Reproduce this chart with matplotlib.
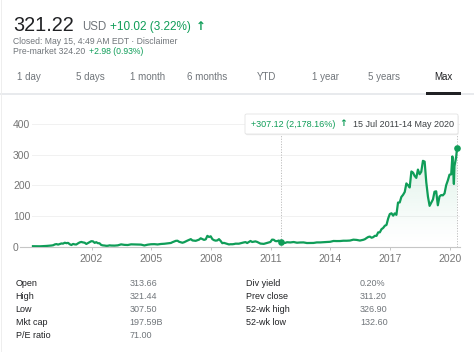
import numpy as np
import pandas as pd
import matplotlib
matplotlib.use("Agg")
import matplotlib.pyplot as plt
from matplotlib.patches import Polygon, Rectangle, FancyBboxPatch
from matplotlib.colors import to_rgb

plt.rcParams['font.family'] = ['Liberation Sans', 'DejaVu Sans']

# ---------------- data ----------------
dates = [
    '1999-01-22', '1999-03-28', '1999-05-28', '1999-07-28', '1999-09-28', '1999-11-28', '1999-12-28',
    '2000-01-28', '2000-02-28', '2000-03-28', '2000-04-28', '2000-05-28', '2000-06-28', '2000-07-28',
    '2000-08-28', '2000-09-28', '2000-10-28', '2000-11-28', '2000-12-28',
    '2001-01-28', '2001-02-28', '2001-03-28', '2001-04-28', '2001-05-28', '2001-06-28', '2001-07-28',
    '2001-08-28', '2001-09-28', '2001-10-28', '2001-11-28', '2001-12-28',
    '2002-01-28', '2002-02-28', '2002-03-28', '2002-04-28', '2002-05-28', '2002-06-28', '2002-07-28',
    '2002-08-28', '2002-09-28', '2002-10-28', '2002-11-28', '2002-12-28',
    '2003-02-28', '2003-04-28', '2003-06-28', '2003-08-28', '2003-10-28', '2003-12-28',
    '2004-02-28', '2004-04-28', '2004-06-28', '2004-08-28', '2004-10-28', '2004-12-28',
    '2005-02-28', '2005-04-28', '2005-06-28', '2005-08-28', '2005-10-28', '2005-12-28',
    '2006-01-28', '2006-03-28', '2006-04-28', '2006-05-28', '2006-07-28', '2006-08-28', '2006-10-28',
    '2006-12-28',
    '2007-01-28', '2007-03-28', '2007-05-28', '2007-06-28', '2007-08-28', '2007-09-28', '2007-10-28',
    '2007-11-28', '2007-12-28',
    '2008-01-28', '2008-02-28', '2008-03-28', '2008-04-28', '2008-05-28', '2008-06-28', '2008-07-28',
    '2008-08-28', '2008-09-28', '2008-10-28', '2008-11-28', '2008-12-28',
    '2009-01-28', '2009-02-28', '2009-03-28', '2009-05-28', '2009-06-28', '2009-08-28', '2009-09-28',
    '2009-10-28', '2009-12-28',
    '2010-01-28', '2010-03-28', '2010-04-28', '2010-06-28', '2010-08-28', '2010-10-28', '2010-12-28',
    '2011-01-28', '2011-02-28', '2011-03-28', '2011-04-28', '2011-05-28', '2011-06-28', '2011-07-15',
    '2011-08-28', '2011-09-28', '2011-10-28', '2011-12-28',
    '2012-02-28', '2012-04-28', '2012-06-28', '2012-08-28', '2012-10-28', '2012-12-28',
    '2013-02-28', '2013-04-28', '2013-06-28', '2013-08-28', '2013-10-28', '2013-12-28',
    '2014-02-28', '2014-04-28', '2014-06-28', '2014-08-28', '2014-10-28', '2014-12-28',
    '2015-02-28', '2015-04-28', '2015-06-28', '2015-08-28', '2015-09-28', '2015-10-28', '2015-11-28',
    '2015-12-28',
    '2016-01-28', '2016-02-28', '2016-03-28', '2016-04-28', '2016-05-28', '2016-06-28', '2016-07-28',
    '2016-08-28', '2016-09-28', '2016-10-28', '2016-11-28', '2016-12-28',
    '2017-01-28', '2017-02-28', '2017-03-28', '2017-04-28', '2017-05-28', '2017-06-28', '2017-07-28',
    '2017-08-28', '2017-09-28', '2017-10-28', '2017-11-28', '2017-12-28',
    '2018-01-28', '2018-02-28', '2018-03-28', '2018-04-28', '2018-05-28', '2018-06-28', '2018-07-28',
    '2018-08-28', '2018-09-28', '2018-10-28', '2018-11-28', '2018-12-28',
    '2019-01-28', '2019-02-28', '2019-03-28', '2019-04-28', '2019-05-28', '2019-06-28', '2019-07-28',
    '2019-08-28', '2019-09-28', '2019-10-28', '2019-11-28', '2019-12-28',
    '2020-01-28', '2020-02-19', '2020-02-28', '2020-03-18', '2020-03-28', '2020-04-28', '2020-05-14',
]
prices = [
    1.6, 1.4, 1.3, 1.8, 2.5, 3.2, 3.9,
    4.8, 7.5, 8.5, 6.9, 8.8, 10.6, 10.0, 13.0, 11.5, 12.5, 8.0, 5.5,
    9.0, 7.5, 7.2, 10.9, 14.0, 15.5, 14.0, 13.0, 9.0, 12.0, 15.5, 18.0,
    17.5, 12.5, 14.8, 11.5, 11.2, 5.7, 4.3, 3.8, 2.9, 3.1, 4.4, 3.8,
    3.6, 4.4, 7.6, 6.0, 5.5, 7.7,
    7.4, 7.2, 6.8, 4.1, 6.6, 8.0,
    8.3, 7.3, 8.9, 9.6, 10.8, 12.2,
    14.9, 19.1, 19.5, 16.0, 12.9, 14.7, 20.0, 24.7,
    20.4, 19.2, 23.0, 27.5, 22.3, 24.0, 35.5, 31.7, 34.0,
    24.6, 21.3, 19.8, 20.6, 24.7, 18.8, 11.5, 12.5, 10.7, 8.8, 7.4, 8.1,
    8.0, 8.7, 9.9, 9.8, 11.3, 14.0, 15.0, 12.0, 18.7,
    15.4, 17.4, 15.7, 10.2, 9.2, 12.3, 15.4,
    23.1, 22.6, 18.5, 18.0, 20.0, 15.9, 14.1, 12.5, 12.5, 14.6, 13.9,
    15.3, 13.0, 13.8, 14.0, 12.0, 12.3,
    12.3, 14.0, 14.0, 14.8, 15.4, 16.0,
    18.7, 18.4, 18.5, 19.5, 19.5, 20.1,
    23.0, 22.2, 20.1, 22.5, 24.6, 28.4, 31.8, 33.0,
    29.3, 31.3, 35.6, 35.5, 46.8, 47.0, 57.1, 61.3, 68.5, 71.1, 92.2, 106.7,
    109.2, 101.4, 108.9, 104.1, 144.3, 144.6, 162.5, 169.4, 178.8, 206.8, 200.7, 193.5,
    245.8, 241.9, 231.6, 224.9, 252.1, 236.9, 244.9, 280.6, 278.0, 210.8, 163.4, 133.5,
    143.7, 154.5, 179.6, 181.0, 135.4, 164.2, 168.7, 167.8, 174.1, 201.0, 216.8, 235.3,
    236.4, 295.0, 268.0, 205.0, 263.6, 292.3, 321.22,
]
y_ticks = [0, 100, 200, 300, 400]
x_tick_years = [2002, 2005, 2008, 2011, 2014, 2017, 2020]
selection_start = '2011-07-15'
selection_start_price = 14.10
tabs = ['1 day', '5 days', '1 month', '6 months', 'YTD', '1 year', '5 years', 'Max']
stats_left = [('Open', '313.66'), ('High', '321.44'), ('Low', '307.50'),
              ('Mkt cap', '197.59B'), ('P/E ratio', '71.00')]
stats_right = [('Div yield', '0.20%'), ('Prev close', '311.20'),
               ('52-wk high', '326.90'), ('52-wk low', '132.60')]

# ---------------- helpers ----------------
W, H = 474, 352
GREEN = '#0f9d58'
GRAY = '#70757a'
DARK = '#202124'


def dec_year(ts):
    ts = pd.Timestamp(ts)
    start = pd.Timestamp(year=ts.year, month=1, day=1)
    end = pd.Timestamp(year=ts.year + 1, month=1, day=1)
    return ts.year + (ts - start) / (end - start)


x = np.array([dec_year(d) for d in dates])
y = np.array(prices)
order = np.argsort(x)
x, y = x[order], y[order]

fig = plt.figure(figsize=(W / 100, H / 100), dpi=100)
fig.patch.set_facecolor('white')


def ftxt(px, py, s, **kw):
    return fig.text(px / W, 1 - py / H, s, **kw)


# ---------------- header ----------------
ftxt(13, 30.7, '321.22', fontsize=14.3, color=DARK, va='baseline')
ftxt(82, 30.2, 'USD', fontsize=8.3, color=GRAY, va='baseline')
ftxt(110, 30.2, '+10.02 (3.22%)', fontsize=8.5, color=GREEN, va='baseline')
ftxt(195.5, 30.0, '↑', fontsize=8.5, color=GREEN, va='baseline', fontweight='bold',
     family=['DejaVu Sans'])
ftxt(13.3, 43.8, 'Closed: May 15, 4:49 AM EDT · Disclaimer', fontsize=6.2, color=GRAY, va='baseline')
ftxt(13.3, 54.3, 'Pre-market 324.20', fontsize=6.2, color=GRAY, va='baseline')
ftxt(89, 54.3, '+2.98 (0.93%)', fontsize=6.2, color=GREEN, va='baseline')

# tabs
tab_x = [29, 90, 148, 207, 267, 325, 384, 443]
for tx, t in zip(tab_x, tabs):
    ftxt(tx, 77.5, t, fontsize=7, color=(DARK if t == 'Max' else GRAY),
         ha='center', va='center')
fig.add_artist(Rectangle((0, 1 - 94.7 / H), 1, 1.2 / H, transform=fig.transFigure,
                         facecolor='#e8eaed', edgecolor='none'))
fig.add_artist(Rectangle((425.7 / W, 1 - 94.9 / H), 35.3 / W, 2.4 / H, transform=fig.transFigure,
                         facecolor='#202124', edgecolor='none'))
# card left border
fig.add_artist(Rectangle((0.5 / W, 0), 1.2 / W, 1, transform=fig.transFigure,
                         facecolor='#eeeeee', edgecolor='none'))

# ---------------- chart ----------------
px_per_year = 19.9
x_end = x[-1]
x_left = x_end - (457 - 20) / px_per_year
x_right = x_end + (460 - 457) / px_per_year
ax_top_px, ax_bot_px = 115, 246.7
units_per_px = 1 / 0.306
y_top = (ax_bot_px - ax_top_px) * units_per_px

ax = fig.add_axes([20 / W, 1 - ax_bot_px / H, 440 / W, (ax_bot_px - ax_top_px) / H])
ax.set_facecolor('none')
for s in ['top', 'right', 'left']:
    ax.spines[s].set_visible(False)
ax.spines['bottom'].set_color('#c6c6c6')
ax.spines['bottom'].set_linewidth(0.8)

# faint gridlines
for yt in y_ticks[1:]:
    ax.axhline(yt, xmin=(32 - 20) / 440, xmax=1, color='#f1f1f1', lw=0.7, zorder=0)

# gradient under selected range
sel = x >= dec_year(selection_start) - 1e-9
xs, ys = x[sel], y[sel]
verts = [(xs[0], 0)] + list(zip(xs, ys)) + [(xs[-1], 0)]
poly = Polygon(verts, closed=True, facecolor='none', edgecolor='none')
ax.add_patch(poly)
n = 256
rgba = np.zeros((n, 1, 4))
rgba[..., :3] = to_rgb(GREEN)
rgba[..., 3] = np.linspace(0, 1, n).reshape(-1, 1) ** 1.3 * 0.16
im = ax.imshow(rgba, extent=[xs[0], xs[-1], 0, ys.max()], origin='lower',
               aspect='auto', zorder=1, interpolation='bilinear')
im.set_clip_path(poly)

# dotted verticals
box_bottom_val = (ax_bot_px - 134) * units_per_px
x_sel = dec_year(selection_start)
ax.plot([x_sel, x_sel], [0, box_bottom_val], color='#bdbdbd', lw=0.7, ls=(0, (1.2, 1.5)), zorder=2)
ax.plot([x_end, x_end], [0, box_bottom_val], color='#bdbdbd', lw=0.7, ls=(0, (1.2, 1.5)), zorder=2)

# price line
ax.plot(x, y, color=GREEN, lw=1.6, zorder=3, solid_joinstyle='round')
ax.plot([x_sel], [selection_start_price], 'o', color=GREEN, ms=4.8, zorder=4, mec='none')
ax.plot([x_end], [y[-1]], 'o', color=GREEN, ms=4.8, zorder=4, mec='none')

ax.set_xlim(x_left, x_right)
ax.set_ylim(0, y_top)

ax.set_yticks(y_ticks)
ax.set_yticklabels([str(v) for v in y_ticks])
ax.tick_params(axis='y', length=0, pad=7 * 0.72, labelsize=7.5, labelcolor='#757575')
for lab in ax.get_yticklabels():
    lab.set_horizontalalignment('left')

ax.set_xticks(x_tick_years)
ax.set_xticklabels([str(v) for v in x_tick_years])
ax.tick_params(axis='x', length=2.5, width=0.7, color='#c6c6c6', pad=3.0,
               labelsize=7.5, labelcolor='#757575')

# tooltip box
shadow = FancyBboxPatch((245.6 / W, 1 - 135.2 / H), 213 / W, 20 / H,
                        boxstyle='round,pad=0,rounding_size=0.004',
                        transform=fig.transFigure, facecolor='#ececec', edgecolor='none', zorder=5)
fig.add_artist(shadow)
box = FancyBboxPatch((245 / W, 1 - 134 / H), 213 / W, 20 / H,
                     boxstyle='round,pad=0,rounding_size=0.004',
                     transform=fig.transFigure, facecolor='white', edgecolor='#e3e3e3',
                     lw=0.6, zorder=6)
fig.add_artist(box)
ftxt(251, 124.2, '+307.12 (2,178.16%)', fontsize=6.5, color=GREEN, va='center', zorder=7)
ftxt(339.5, 124.0, '↑', fontsize=6.8, color=GREEN, va='center', fontweight='bold',
     family=['DejaVu Sans'], zorder=7)
ftxt(352.7, 124.2, '15 Jul 2011-14 May 2020', fontsize=6.5, color='#3c4043', va='center', zorder=7)

# ---------------- stats ----------------
row_y = [284, 296.7, 309.5, 322.3, 335.3]
for (lab, val), ry in zip(stats_left, row_y):
    ftxt(15.5, ry, lab, fontsize=6.5, color=DARK, va='center')
    ftxt(129.3, ry, val, fontsize=6.5, color=GRAY, va='center')
for (lab, val), ry in zip(stats_right, row_y):
    ftxt(245.7, ry, lab, fontsize=6.5, color=DARK, va='center')
    ftxt(360, ry, val, fontsize=6.5, color=GRAY, va='center')

fig.savefig('out.png', dpi=100, facecolor='white')
